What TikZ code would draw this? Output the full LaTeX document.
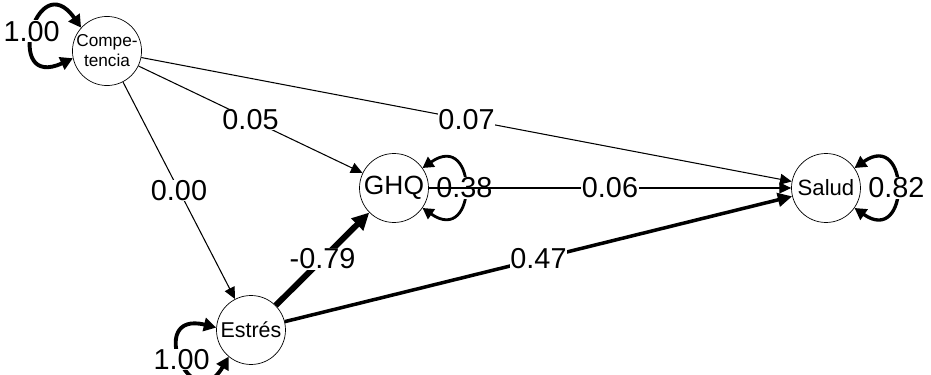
\documentclass[tikz,border=0pt]{standalone}
\usepackage{fontspec}
\setmainfont{Liberation Sans}
\usetikzlibrary{arrows.meta}
\tikzset{
  var/.style={draw, circle, fill=white, minimum size=1.38cm, inner sep=0pt, line width=0.4pt},
  edgeline/.style={-{Triangle[length={6pt 1.1},width={5.5pt 1.1}]}, line width=#1},
  edgeline/.default=0.6pt,
  resid/.style={{Triangle[length={4pt 1.4},width={4.5pt 1.4}]}-{Triangle[length={4pt 1.4},width={4.5pt 1.4}]}, line width=#1},
  wt/.style={fill=white, inner sep=0.4pt, font=\fontsize{16.4}{16}\selectfont}
}
\begin{document}
\begin{tikzpicture}[x=0.02cm,y=0.02cm]
  \useasboundingbox (0,0) rectangle (931,375);
  \node [var, align=center, font=\fontsize{9.8}{11.3}\selectfont] (comp) at (107,324) {Compe-\\tencia};
  \node [var, font=\fontsize{15}{15}\selectfont] (ghq) at (394,187) {GHQ};
  \node [var, font=\fontsize{12.2}{12}\selectfont] (estres) at (251,45) {Estrés};
  \node [var, font=\fontsize{12.6}{12}\selectfont] (salud) at (826,187) {Salud};
  % residual variances
  \draw [resid=2.2pt] (comp.138) .. controls +(125:78) and +(205:78) .. (comp.192) node [wt, pos=0.5, xshift=-0.04cm] (rcomp) {1.00};
  \draw [resid=1.6pt] (ghq.35) .. controls +(35:68) and +(-35:68) .. (ghq.-35) node [wt, pos=0.5] (rghq) {0.38};
  \draw [resid=2.2pt] (estres.176) .. controls +(166:74) and +(240:74) .. (estres.230) node [wt, pos=0.5] (restres) {1.00};
  \draw [resid=1.9pt] (salud.35) .. controls +(35:68) and +(-35:68) .. (salud.-35) node [wt, pos=0.5] (rsalud) {0.82};
  % regressions
  \draw [edgeline] (comp) -- (ghq) node [wt, midway] (wcg) {0.05};
  \draw [edgeline] (comp) -- (salud) node [wt, midway] (wcs) {0.07};
  \draw [edgeline] (comp) -- (estres) node [wt, midway] (wce) {0.00};
  \draw [edgeline=3.4pt] (estres) -- (ghq) node [wt, midway] (weg) {-0.79};
  \draw [edgeline=2pt] (estres) -- (salud) node [wt, midway] (wes) {0.47};
  \draw [edgeline] (ghq) -- (salud) node [wt, midway] (wgs) {0.06};
\end{tikzpicture}
\end{document}
